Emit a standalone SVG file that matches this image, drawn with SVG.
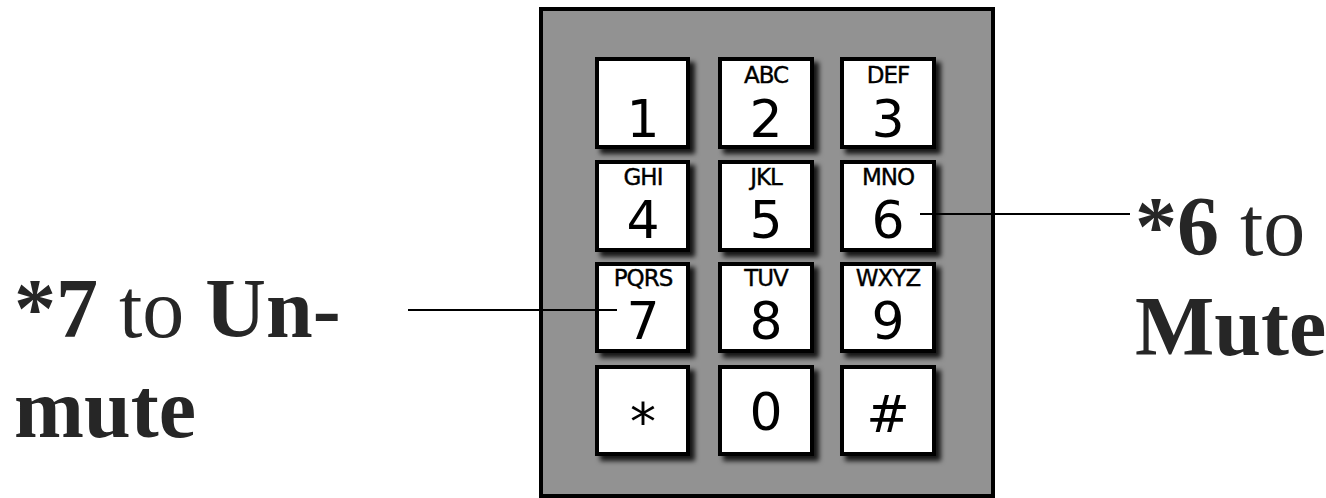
<svg xmlns="http://www.w3.org/2000/svg" width="1326" height="498" viewBox="0 0 1326 498">
<style>
.key{fill:#fff;stroke:#000;stroke-width:4;filter:url(#sh)}
.dig{font-family:"DejaVu Sans",sans-serif;font-size:52px;fill:#000;text-anchor:middle}
.let{font-family:"DejaVu Sans",sans-serif;font-size:23px;fill:#000;stroke:#000;stroke-width:0.4;text-anchor:middle;letter-spacing:-1px}
.lbl{font-family:"Liberation Serif",serif;font-size:84px;fill:#262626}
.b{font-weight:bold}
.conn{stroke:#000;stroke-width:2;fill:none}
</style>
<defs>
<filter id="sh" x="-20%" y="-20%" width="150%" height="150%">
<feDropShadow dx="5" dy="5" stdDeviation="2.5" flood-color="#000" flood-opacity="0.85"/>
</filter>
</defs>
<rect width="1326" height="498" fill="#fff"/>
<g id="keypad">
<rect x="541" y="9" width="452" height="487" fill="#929292" stroke="#000" stroke-width="4"/>
</g>
<g id="key1"><rect class="key" x="597" y="59" width="91" height="88"/><text class="dig" x="643" y="137">1</text></g>
<g id="key2"><rect class="key" x="720" y="59" width="92" height="88"/><text class="let" x="766" y="83">ABC</text><text class="dig" x="766" y="137">2</text></g>
<g id="key3"><rect class="key" x="842" y="59" width="92" height="88"/><text class="let" x="888" y="83">DEF</text><text class="dig" x="888" y="137">3</text></g>
<g id="key4"><rect class="key" x="597" y="162" width="91" height="88"/><text class="let" x="643" y="185">GHI</text><text class="dig" x="643" y="238">4</text></g>
<g id="key5"><rect class="key" x="720" y="162" width="92" height="88"/><text class="let" x="766" y="185">JKL</text><text class="dig" x="766" y="238">5</text></g>
<g id="key6"><rect class="key" x="842" y="162" width="92" height="88"/><text class="let" x="888" y="185">MNO</text><text class="dig" x="888" y="238">6</text></g>
<g id="key7"><rect class="key" x="597" y="264" width="91" height="87"/><text class="let" x="643" y="286">PQRS</text><text class="dig" x="643" y="339">7</text></g>
<g id="key8"><rect class="key" x="720" y="264" width="92" height="87"/><text class="let" x="766" y="286">TUV</text><text class="dig" x="766" y="339">8</text></g>
<g id="key9"><rect class="key" x="842" y="264" width="92" height="87"/><text class="let" x="888" y="286">WXYZ</text><text class="dig" x="888" y="339">9</text></g>
<g id="keystar"><rect class="key" x="597" y="367" width="91" height="87"/><text class="dig" x="643" y="440">*</text></g>
<g id="key0"><rect class="key" x="720" y="367" width="92" height="87"/><text class="dig" x="766" y="430">0</text></g>
<g id="keyhash"><rect class="key" x="842" y="367" width="92" height="87"/><text class="dig" x="888" y="432">#</text></g>
<g id="connectors">
<line class="conn" x1="920" y1="214" x2="1130" y2="214"/>
<line class="conn" x1="408" y1="310" x2="617" y2="310"/>
</g>
<g id="label-unmute">
<text class="lbl" x="14" y="337"><tspan class="b">*7</tspan> to <tspan class="b">Un-</tspan></text>
<text class="lbl b" x="14" y="437">mute</text>
</g>
<g id="label-mute">
<text class="lbl" x="1135" y="255"><tspan class="b">*6</tspan> to</text>
<text class="lbl b" x="1135" y="355">Mute</text>
</g>
</svg>
